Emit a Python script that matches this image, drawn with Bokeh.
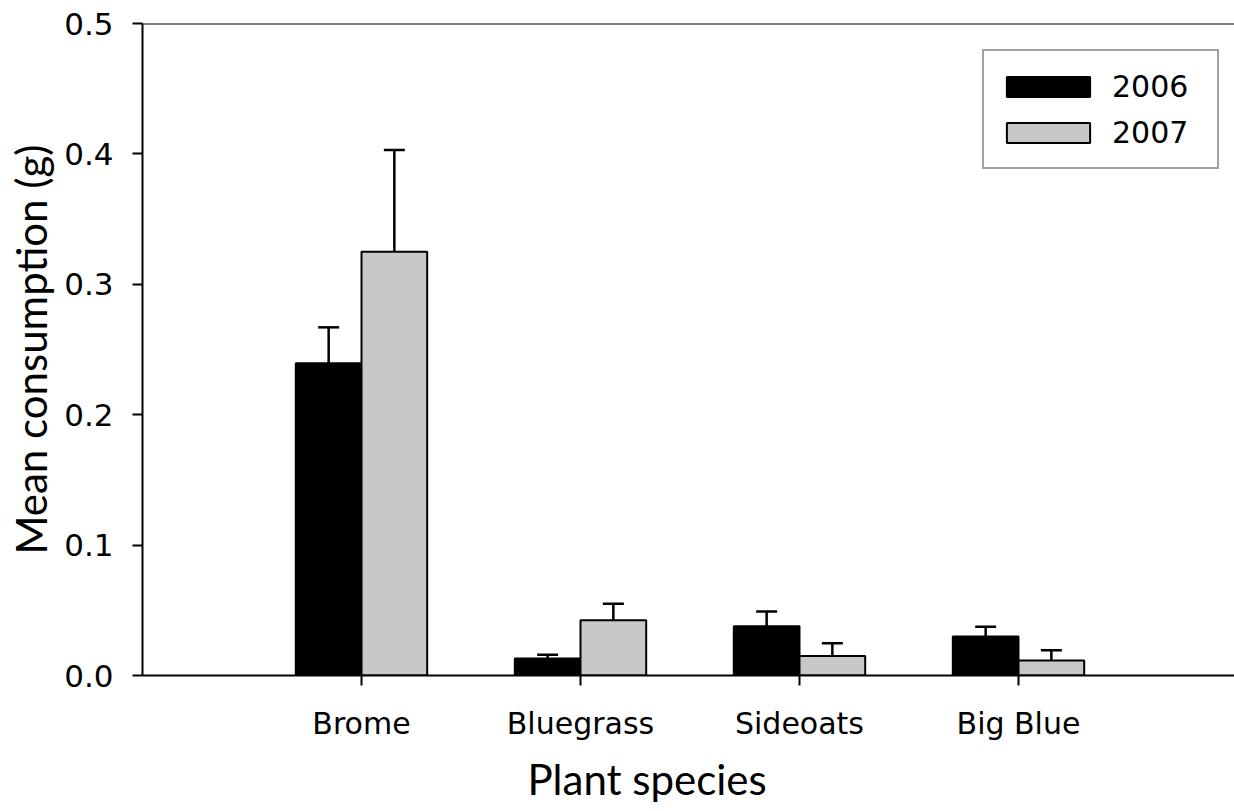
from bokeh.plotting import figure
from bokeh.models import (ColumnDataSource, Range1d, FixedTicker, Whisker, TeeHead,
                          Span, Legend, LegendItem, NumeralTickFormatter, Title)
from bokeh.embed import file_html
from bokeh.resources import INLINE

species = ["Brome", "Bluegrass", "Sideoats", "Big Blue"]
mean_2006 = [0.2395, 0.0130, 0.0378, 0.0300]
se_2006 = [0.0275, 0.0030, 0.0112, 0.0073]
mean_2007 = [0.3250, 0.0423, 0.0150, 0.0115]
se_2007 = [0.0780, 0.0127, 0.0097, 0.0079]
years = ["2006", "2007"]
y_ticks = [0.0, 0.1, 0.2, 0.3, 0.4, 0.5]

pos = [i + 1 for i in range(len(species))]
bw = 0.3

src6 = ColumnDataSource(dict(x=[p - bw / 2 for p in pos], top=mean_2006,
                             upper=[m + s for m, s in zip(mean_2006, se_2006)]))
src7 = ColumnDataSource(dict(x=[p + bw / 2 for p in pos], top=mean_2007,
                             upper=[m + s for m, s in zip(mean_2007, se_2007)]))

p = figure(width=1234, height=811, output_backend="svg", toolbar_location=None,
           x_range=Range1d(0, 1092 / 219), y_range=Range1d(0, 0.5),
           min_border_left=142, min_border_right=0, min_border_top=23,
           min_border_bottom=135)
p.outline_line_color = None
p.grid.visible = False
p.background_fill_color = "white"

r6 = p.vbar(x="x", top="top", width=bw, source=src6, fill_color="black",
            line_color="black", line_width=2)
r7 = p.vbar(x="x", top="top", width=bw, source=src7, fill_color="#c8c8c8",
            line_color="black", line_width=2)

for src in (src6, src7):
    w = Whisker(base="x", upper="upper", lower="top", source=src,
                line_color="black", line_width=2.5, lower_head=None,
                upper_head=TeeHead(size=21, line_color="black", line_width=2.5))
    p.add_layout(w)

p.add_layout(Span(location=0.5, dimension="width", line_color="black", line_width=2))

# axes
for ax in (p.xaxis[0], p.yaxis[0]):
    ax.axis_line_width = 2
    ax.axis_line_color = "black"
    ax.major_tick_line_width = 2
    ax.major_tick_line_color = "black"
    ax.major_tick_in = 0
    ax.major_tick_out = 10
    ax.minor_tick_line_color = None
    ax.major_label_text_font = "DejaVu Sans"
    ax.major_label_text_color = "black"

p.xaxis.ticker = FixedTicker(ticks=pos)
p.xaxis.major_label_overrides = {pp: s for pp, s in zip(pos, species)}
p.xaxis.major_label_text_font_size = "30px"
p.xaxis.major_label_standoff = 20

p.yaxis.ticker = FixedTicker(ticks=y_ticks)
p.yaxis.formatter = NumeralTickFormatter(format="0.0")
p.yaxis.major_label_text_font_size = "31px"
p.yaxis.major_label_standoff = 19

# axis titles
p.yaxis.axis_label = "Mean consumption (g)"
p.yaxis.axis_label_text_font = "Lato"
p.yaxis.axis_label_text_font_size = "42px"
p.yaxis.axis_label_text_font_style = "normal"
p.yaxis.axis_label_text_color = "black"
p.yaxis.axis_label_standoff = 5

p.add_layout(Title(text="Plant species", align="left", offset=385,
                   text_font="Lato", text_font_size="42px",
                   text_font_style="normal", text_color="black",
                   standoff=16), "below")

legend = Legend(items=[LegendItem(label=years[0], renderers=[r6]),
                       LegendItem(label=years[1], renderers=[r7])],
                location=(840, 506), orientation="vertical",
                glyph_width=104, glyph_height=25, label_standoff=12,
                label_width=93, label_height=46, spacing=0, padding=12,
                label_text_font="DejaVu Sans", label_text_font_size="30px",
                label_text_color="black",
                border_line_color="#444444", border_line_width=2,
                background_fill_color="white", background_fill_alpha=1)
p.add_layout(legend)

open("out.html", "w").write(file_html(p, INLINE))
